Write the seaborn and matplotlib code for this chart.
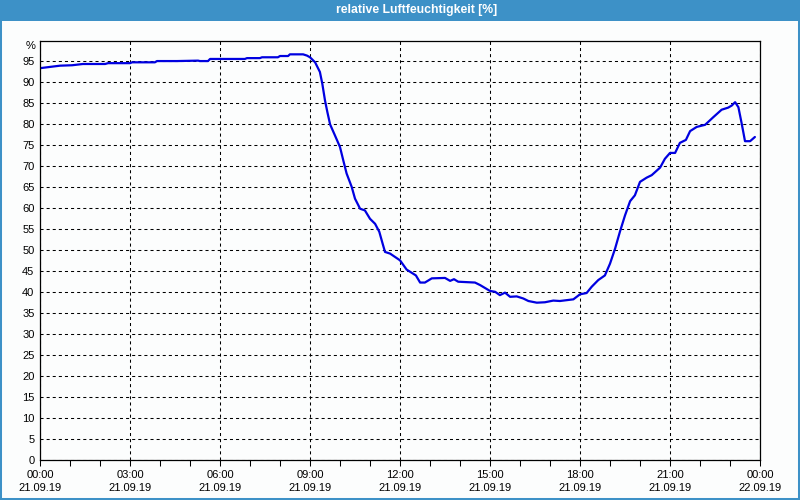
import matplotlib
matplotlib.use('Agg')
import matplotlib.pyplot as plt
import pandas as pd
import seaborn as sns
from matplotlib.patches import Rectangle

# ---- data (hours since 21.09.19 00:00, relative humidity %) ----
hours = [0.0, 0.33, 0.67, 1.07, 1.43, 2.17, 2.27, 3.0, 3.07, 3.83, 3.9, 4.57,
         5.27, 5.33, 5.6, 5.67, 6.83, 6.9, 7.33, 7.4, 7.93, 8.0, 8.27, 8.33,
         8.77, 8.9, 9.0, 9.17, 9.33, 9.41, 9.5, 9.58, 9.67, 9.83, 10.0, 10.11,
         10.22, 10.39, 10.5, 10.67, 10.83, 11.0, 11.17, 11.31, 11.42, 11.5,
         11.67, 12.0, 12.22, 12.44, 12.53, 12.67, 12.83, 13.06, 13.5, 13.67,
         13.8, 13.94, 14.5, 14.67, 15.0, 15.17, 15.33, 15.5, 15.67, 15.89,
         16.11, 16.28, 16.56, 16.83, 17.11, 17.33, 17.78, 18.0, 18.22, 18.39,
         18.61, 18.83, 19.0, 19.17, 19.33, 19.5, 19.67, 19.83, 20.0, 20.22,
         20.39, 20.67, 20.83, 21.0, 21.17, 21.33, 21.53, 21.67, 21.89, 22.17,
         22.44, 22.72, 22.94, 23.06, 23.17, 23.28, 23.39, 23.5, 23.67, 23.83]
humidity = [93.4, 93.7, 94.0, 94.1, 94.4, 94.4, 94.6, 94.6, 94.8, 94.8, 95.1, 95.1,
            95.2, 95.1, 95.1, 95.6, 95.6, 95.8, 95.8, 96.0, 96.0, 96.3, 96.3, 96.7,
            96.7, 96.4, 96.0, 94.8, 92.5, 89.7, 85.7, 82.9, 80.0, 77.4, 74.6, 71.4,
            68.3, 65.1, 62.3, 59.9, 59.5, 57.5, 56.3, 54.4, 51.6, 49.6,
            49.2, 47.6, 45.4, 44.4, 44.0, 42.3, 42.3, 43.3, 43.4, 42.7,
            43.1, 42.5, 42.3, 41.7, 40.3, 40.1, 39.3, 39.9, 38.9, 39.0,
            38.5, 37.9, 37.5, 37.6, 38.0, 37.9, 38.3, 39.5, 39.8, 41.3,
            42.9, 44.0, 46.8, 50.4, 54.4, 58.3, 61.7, 63.1, 66.3, 67.3,
            67.9, 69.7, 71.8, 73.2, 73.2, 75.6, 76.3, 78.4, 79.4, 79.9,
            81.7, 83.5, 84.0, 84.5, 85.3, 84.1, 80.2, 76.0, 76.0, 77.0]

tick_hours = [0, 3, 6, 9, 12, 15, 18, 21, 24]
tick_times = ['00:00', '03:00', '06:00', '09:00', '12:00', '15:00', '18:00', '21:00', '00:00']
tick_dates = ['21.09.19'] * 8 + ['22.09.19']
y_ticks = list(range(0, 100, 5))
title = 'relative Luftfeuchtigkeit [%]'
unit_label = '%'

sns.set_theme(style='white')
plt.rcParams['font.family'] = ['Liberation Sans', 'DejaVu Sans']
plt.rcParams['lines.scale_dashes'] = False

bg = '#fcfdfd'
bar_color = '#3d91c7'

fig = plt.figure(figsize=(8, 5), dpi=100, facecolor=bg)
ax = fig.add_axes([40 / 800, 40 / 500, 720 / 800, 419.5 / 500])
ax.set_facecolor(bg)

df = pd.DataFrame({'t': hours, 'rh': humidity})
sns.lineplot(data=df, x='t', y='rh', ax=ax, color='#0000e0', linewidth=1.6,
             estimator=None, sort=True)

ax.set_xlim(0, 24)
ax.set_ylim(0, 100)
ax.set_xticks(tick_hours)
ax.set_xticklabels([f'{a}\n{b}' for a, b in zip(tick_times, tick_dates)],
                   linespacing=1.45)
ax.set_xticks(range(25), minor=True)
ax.set_yticks(y_ticks)
ax.set_yticklabels([str(v) for v in y_ticks])
ax.tick_params(axis='x', which='both', direction='out', length=4, width=0.75,
               color='black', pad=3, labelsize=8, labelcolor='black', bottom=True)
ax.tick_params(axis='y', length=0, pad=4, labelsize=8, labelcolor='black')
ax.grid(True, which='major', color='black', linestyle=(0, (2.2, 2.2)), linewidth=0.75)
ax.set_axisbelow(True)
for s in ax.spines.values():
    s.set_visible(True)
    s.set_color('black')
    s.set_linewidth(0.9)
ax.set_xlabel('')
ax.set_ylabel('')

fig.text(36 / 800, 1 - 46 / 500, unit_label, ha='right', va='center', fontsize=8, color='black')

# title bar
fig.patches.append(Rectangle((0, 1 - 21 / 500), 1, 21 / 500, transform=fig.transFigure,
                             facecolor=bar_color, edgecolor='none', zorder=0))
fig.text(417 / 800, 1 - 10.5 / 500, title, color='white', ha='center', va='center',
         fontsize=8.8, fontweight='bold')
# outer border
fig.patches.append(Rectangle((0, 0), 1, 1, transform=fig.transFigure, fill=False,
                             edgecolor=bar_color, linewidth=2.9, zorder=5))

fig.savefig('out.png', dpi=100, facecolor=bg)
